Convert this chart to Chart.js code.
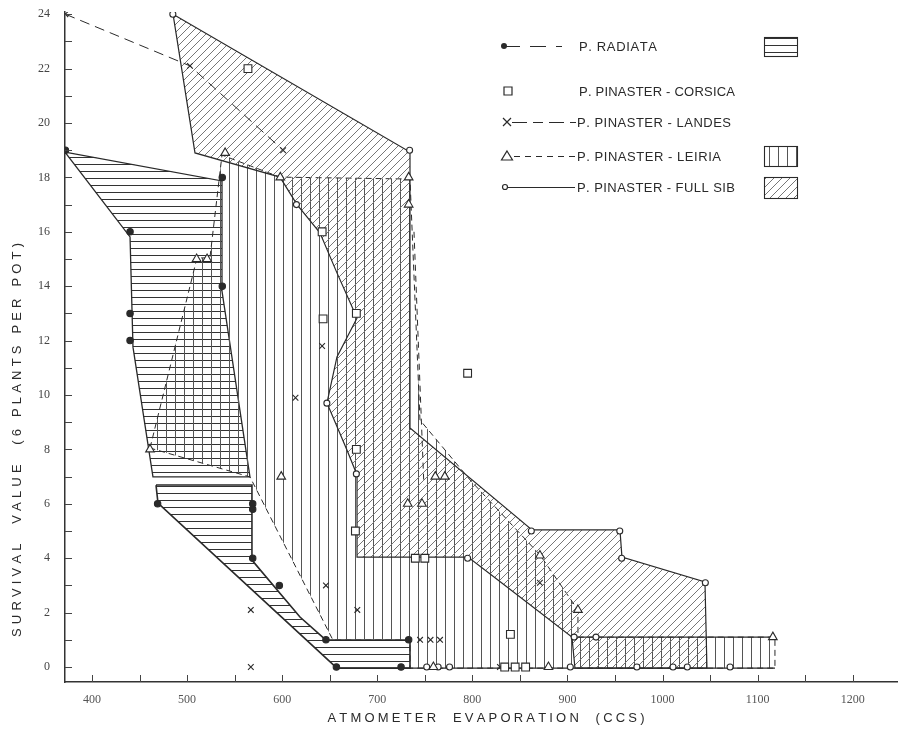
<!DOCTYPE html>
<html>
<head>
<meta charset="utf-8">
<script src="https://cdn.jsdelivr.net/npm/chart.js@4.4.1/dist/chart.umd.min.js"></script>
<style>
  html, body { margin: 0; padding: 0; background: #fff; }
  canvas { display: block; }
</style>
</head>
<body>
<canvas id="chart" width="898" height="730"></canvas>
<script>
// axis ticks
const xTicks = [400, 500, 600, 700, 800, 900, 1000, 1100, 1200];
const xMinorTicks = [400, 450, 500, 550, 600, 650, 700, 750, 800, 850, 900, 950, 1000, 1050, 1100, 1150, 1200];
const yTicks = [0, 2, 4, 6, 8, 10, 12, 14, 16, 18, 20, 22, 24];
const yMinorTicks = [0, 1, 2, 3, 4, 5, 6, 7, 8, 9, 10, 11, 12, 13, 14, 15, 16, 17, 18, 19, 20, 21, 22, 23, 24];

// observed points per provenance
const radiataX = [372, 440, 440, 440, 537, 537, 469, 569, 569, 569, 597, 646, 657, 733, 725];
const radiataY = [19, 16, 13, 12, 18, 14, 6, 6, 5.8, 4, 3, 1, 0, 1, 0];

const corsicaX = [564, 642, 678, 643, 678, 677, 795, 740, 750, 840, 834, 845, 856];
const corsicaY = [22, 16, 13, 12.8, 8, 5, 10.8, 4, 4, 1.2, 0, 0, 0];

const landesX = [372, 503, 601, 642, 614, 646, 679, 567, 567, 745, 756, 766, 871, 829];
const landesY = [24, 22.1, 19, 11.8, 9.9, 3, 2.1, 2.1, 0, 1, 1, 1, 3.1, 0];

const leiriaX = [540, 598, 733, 733, 510, 521, 461, 599, 732, 747, 761, 771, 871, 911, 1116, 880, 759];
const leiriaY = [18.9, 18, 18, 17, 15, 15, 8, 7, 6, 6, 7, 7, 4.1, 2.1, 1.1, 0, 0];

const fullSibX = [485, 734, 615, 647, 678, 862, 955, 957, 1045, 795, 907, 930, 752, 764, 776, 903, 973, 1011, 1026, 1071];
const fullSibY = [24, 19, 17, 9.7, 7.1, 5, 5, 4, 3.1, 4, 1.1, 1.1, 0, 0, 0, 0, 0, 0, 0, 0];

// connecting lines
const landesLineX = [372, 503, 601];
const landesLineY = [24, 22.1, 19];
const leiriaDashX = [738.6, 749];
const leiriaDashY = [16, 6.7];
const baseTopX = [907.9, 1118.2];
const baseTopY = [1.1, 1.1];
const baseBottomX = [657.6, 1118.2];
const baseBottomY = [-0.04, -0.04];

// shaded envelopes (outline vertices)
const radiataUpperX = [371.6, 536.7, 536.7, 566.1, 464.1, 443.1, 440];
const radiataUpperY = [18.93, 17.87, 13.82, 6.99, 6.99, 11.76, 15.81];
const radiataLowerX = [467.3, 568.2, 568.2, 618.7, 646.1, 734.4, 734.4, 657.6, 469.4];
const radiataLowerY = [6.69, 6.69, 3.93, 1.84, 0.99, 0.99, -0.04, -0.04, 6.03];
const leiriaAreaX = [461, 510.4, 524, 536.7, 597.7, 734.4, 744.9, 797.5, 871.1, 911, 911, 1118.2, 1118.2, 734.4, 734.4, 653.4, 566.1];
const leiriaAreaY = [8.05, 15.04, 15.04, 18.82, 18.01, 17.94, 9.08, 6.88, 4.12, 2.1, 1.1, 1.1, -0.04, -0.04, 0.99, 0.99, 6.99];
const fullSibAreaX = [485.2, 734.4, 734.4, 862.7, 955.2, 957.3, 1044.6, 1046.7, 907.9, 904.7, 826.9, 795.4, 678.7, 678.7, 668.1, 647.1, 657.6, 678.7, 657.6, 639.7, 615.6, 597.7, 508.3];
const fullSibAreaY = [24.0, 18.93, 8.79, 5.04, 5.04, 4.04, 3.13, -0.04, -0.04, 1.1, 3.2, 4.04, 4.04, 7.06, 7.98, 9.71, 11.4, 12.83, 14.49, 15.96, 17.0, 18.01, 18.9];

const legendLabels = ["P. RADIATA", "P. PINASTER - CORSICA", "P. PINASTER - LANDES", "P. PINASTER - LEIRIA", "P. PINASTER - FULL SIB"];
const xTitle = "ATMOMETER  EVAPORATION  (CCS)";
const yTitle = "SURVIVAL  VALUE  (6 PLANTS PER POT)";

const NARROW = '"Liberation Sans Narrow", "Liberation Sans", Arial, sans-serif';
const INK = "#2a2a2a";

const canvas = document.getElementById("chart");
const mainCtx = canvas.getContext("2d");

function makePattern(kind, gap, color, width) {
    const tile = document.createElement("canvas");
    tile.width = gap;
    tile.height = gap;
    const g = tile.getContext("2d");
    g.strokeStyle = color;
    g.lineWidth = width;
    g.beginPath();
    if (kind === "h") {
        g.moveTo(0, gap / 2); g.lineTo(gap, gap / 2);
    } else if (kind === "v") {
        g.moveTo(gap / 2, 0); g.lineTo(gap / 2, gap);
    } else {
        g.moveTo(0, gap); g.lineTo(gap, 0);
        g.moveTo(-1, 1); g.lineTo(1, -1);
        g.moveTo(gap - 1, gap + 1); g.lineTo(gap + 1, gap - 1);
    }
    g.stroke();
    return mainCtx.createPattern(tile, "repeat");
}

const hatchH = makePattern("h", 7, "#333", 1);
const hatchV = makePattern("v", 9, "#555", 1);
const hatchD = makePattern("d", 8, "#777", 1);

function pts(xs, ys) { return xs.map((x, i) => ({ x: x, y: ys[i] })); }
function ring(xs, ys) { const p = pts(xs, ys); return p.concat([p[0]]); }

function area(xs, ys, pattern, dash, width) {
    return {
        data: ring(xs, ys), showLine: true, fill: "shape", backgroundColor: pattern,
        borderColor: INK, borderWidth: width, borderDash: dash, pointRadius: 0, order: 5
    };
}

function path(xs, ys, dash, width) {
    return { data: pts(xs, ys), showLine: true, borderColor: INK, borderWidth: width, borderDash: dash, pointRadius: 0, order: 2 };
}

function markers(xs, ys, style, radius, fillColor) {
    return {
        data: pts(xs, ys), showLine: false, pointStyle: style, pointRadius: radius,
        pointBackgroundColor: fillColor, pointBorderColor: INK, pointBorderWidth: 1.1, order: 0
    };
}

function spacedText(ctx, str, x, y, width, align) {
    const chars = [...str];
    const ws = chars.map((ch) => ctx.measureText(ch).width);
    const natural = ws.reduce((a, b) => a + b, 0);
    const gap = chars.length > 1 ? (width - natural) / (chars.length - 1) : 0;
    let cx = align === "center" ? x - width / 2 : x;
    ctx.textAlign = "left";
    chars.forEach((ch, i) => { ctx.fillText(ch, cx, y); cx += ws[i] + gap; });
}

function drawMark(ctx, kind, x, y) {
    ctx.beginPath();
    if (kind === "dot") {
        ctx.arc(x, y, 3, 0, Math.PI * 2); ctx.fillStyle = INK; ctx.fill(); return;
    }
    if (kind === "square") ctx.rect(x - 4, y - 4, 8, 8);
    if (kind === "cross") { ctx.moveTo(x - 4, y - 4); ctx.lineTo(x + 4, y + 4); ctx.moveTo(x + 4, y - 4); ctx.lineTo(x - 4, y + 4); }
    if (kind === "triangle") { ctx.moveTo(x, y - 5); ctx.lineTo(x + 5.5, y + 4); ctx.lineTo(x - 5.5, y + 4); ctx.closePath(); }
    if (kind === "circle") ctx.arc(x, y, 2.5, 0, Math.PI * 2);
    ctx.stroke();
}

function drawLegend(ctx) {
    const rows = [
        { y: 46, mark: "dot", mx: 504, line: [504, 562], dash: [16, 10], tx: 579, tw: 78, box: hatchH, bh: 19 },
        { y: 91, mark: "square", mx: 508, line: null, tx: 579, tw: 156 },
        { y: 122, mark: "cross", mx: 507, line: [512, 576], dash: [15, 6, 10, 6], tx: 577, tw: 154 },
        { y: 156, mark: "triangle", mx: 507, line: [514, 576], dash: [6, 5], tx: 577, tw: 144, box: hatchV, bh: 20 },
        { y: 187, mark: "circle", mx: 505, line: [508, 575], dash: [], tx: 577, tw: 158, box: hatchD, bh: 21 }
    ];
    ctx.font = "13px " + NARROW;
    ctx.textBaseline = "middle";
    rows.forEach((r, i) => {
        ctx.strokeStyle = INK; ctx.lineWidth = 1.2; ctx.setLineDash([]);
        drawMark(ctx, r.mark, r.mx, r.y);
        if (r.line) {
            ctx.setLineDash(r.dash);
            ctx.beginPath(); ctx.moveTo(r.line[0], r.y + 0.5); ctx.lineTo(r.line[1], r.y + 0.5); ctx.stroke();
            ctx.setLineDash([]);
        }
        ctx.fillStyle = INK;
        spacedText(ctx, legendLabels[i], r.tx, r.y + 1, r.tw, "left");
        if (r.box) {
            const top = Math.round(r.y - r.bh / 2) + 0.5;
            ctx.fillStyle = r.box;
            ctx.fillRect(764, top, 33, r.bh);
            ctx.lineWidth = 1.1;
            ctx.strokeRect(764.5, top, 33, r.bh);
        }
    });
}

const decorPlugin = {
    id: "decor",
    afterDraw(chart) {
        const { ctx, scales: { x, y } } = chart;
        ctx.save();
        ctx.strokeStyle = "#444";
        ctx.lineWidth = 1;
        xMinorTicks.forEach((v) => {
            const px = Math.round(x.getPixelForValue(v)) + 0.5;
            ctx.beginPath(); ctx.moveTo(px, y.bottom); ctx.lineTo(px, y.bottom - 7); ctx.stroke();
        });
        yMinorTicks.forEach((v) => {
            const py = Math.round(y.getPixelForValue(v)) + 0.5;
            ctx.beginPath(); ctx.moveTo(x.left, py); ctx.lineTo(x.left + 7, py); ctx.stroke();
        });
        ctx.fillStyle = INK;
        ctx.font = "13px " + NARROW;
        ctx.textBaseline = "middle";
        spacedText(ctx, xTitle, 486, 718, 317, "center");
        ctx.translate(17, 440);
        ctx.rotate(-Math.PI / 2);
        spacedText(ctx, yTitle, 0, 0, 394, "center");
        ctx.setTransform(1, 0, 0, 1, 0, 0);
        drawLegend(ctx);
        ctx.restore();
    }
};

new Chart(mainCtx, {
    type: "scatter",
    data: {
        datasets: [
            area(fullSibAreaX, fullSibAreaY, hatchD, [], 1.2),
            area(leiriaAreaX, leiriaAreaY, hatchV, [6, 4], 1),
            area(radiataUpperX, radiataUpperY, hatchH, [], 1.3),
            area(radiataLowerX, radiataLowerY, hatchH, [], 1.6),
            path(landesLineX, landesLineY, [10, 6], 1),
            path(leiriaDashX, leiriaDashY, [6, 5], 1),
            path(baseTopX, baseTopY, [], 1.2),
            path(baseBottomX, baseBottomY, [], 1.2),
            markers(radiataX, radiataY, "circle", 3.2, INK),
            markers(corsicaX, corsicaY, "rect", 5.5, "#fff"),
            markers(landesX, landesY, "crossRot", 4, INK),
            markers(leiriaX, leiriaY, "triangle", 5, "#fff"),
            markers(fullSibX, fullSibY, "circle", 3, "#fff")
        ]
    },
    options: {
        responsive: false,
        animation: false,
        devicePixelRatio: 1,
        layout: { autoPadding: false, padding: { top: 12, left: 0, right: 0, bottom: 0 } },
        elements: { line: { tension: 0 } },
        plugins: { legend: { display: false }, tooltip: { enabled: false } },
        scales: {
            x: {
                type: "linear", min: 371.6, max: 1247.6,
                grid: { display: false, drawTicks: false },
                border: { display: true, color: "#333", width: 1.5 },
                ticks: { color: "#555", padding: 11, maxRotation: 0, autoSkip: false, callback: (v) => String(v), font: { family: "Liberation Serif", size: 12 } },
                afterBuildTicks: (s) => { s.ticks = xTicks.map((v) => ({ value: v })); },
                afterFit: (s) => { s.height = 48; s.paddingLeft = 0; s.paddingRight = 0; s.paddingTop = 0; s.paddingBottom = 0; }
            },
            y: {
                type: "linear", min: -0.55, max: 24.08,
                grid: { display: false, drawTicks: false },
                border: { display: true, color: "#333", width: 1.5 },
                ticks: { color: "#444", padding: 15, autoSkip: false, callback: (v) => String(v), font: { family: "Liberation Serif", size: 12 } },
                afterBuildTicks: (s) => { s.ticks = yTicks.map((v) => ({ value: v })); },
                afterFit: (s) => { s.width = 65; s.paddingLeft = 0; s.paddingRight = 0; s.paddingTop = 0; s.paddingBottom = 0; }
            }
        }
    },
    plugins: [decorPlugin]
});
</script>
</body>
</html>
